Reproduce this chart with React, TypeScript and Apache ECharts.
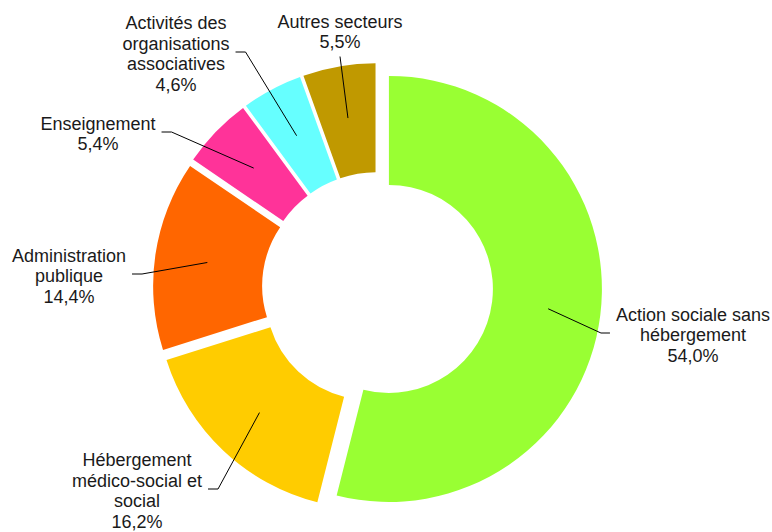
import React, { useEffect, useRef } from 'react';
import * as echarts from 'echarts';

const categories = [
  'Action sociale sans\nhébergement',
  'Hébergement\nmédico-social et\nsocial',
  'Administration\npublique',
  'Enseignement',
  'Activités des\norganisations\nassociatives',
  'Autres secteurs',
];
const values = [54.0, 16.2, 14.4, 5.4, 4.6, 5.5];
const colors = ['#99FF33', '#FFCC00', '#FF6600', '#FF3399', '#66FFFF', '#C09900'];

// Label layout: centre of each label block, and the side of the block the leader line reaches
const labelCenters = [
  [693, 335],
  [137, 491],
  [69, 276],
  [98, 134],
  [176, 54],
  [340, 32],
];
const labelSides = ['left', 'right', 'right', 'right', 'right', 'bottom'];

const CENTER = [377.5, 287.5];
const FONT = "'Liberation Sans', Arial, sans-serif";

const fmt = (v: number) => v.toFixed(1).replace('.', ',') + '%';

export default function App() {
  const ref = useRef<HTMLDivElement>(null);
  useEffect(() => {
    if (!ref.current) return;
    const chart = echarts.init(ref.current, null, { renderer: 'svg' });
    const data = categories.map((name, i) => ({
      name,
      value: values[i],
      selected: true,
      itemStyle: { color: colors[i] },
      select: { itemStyle: { color: colors[i], borderWidth: 0 } },
    }));
    chart.setOption({
      animation: false,
      backgroundColor: '#ffffff',
      series: [
        {
          type: 'pie',
          center: CENTER,
          radius: [104, 213],
          startAngle: 90,
          clockwise: true,
          selectedMode: 'multiple',
          selectedOffset: 11.5,
          silent: true,
          label: { show: false },
          labelLine: { show: false },
          emphasis: { disabled: true },
          itemStyle: { borderWidth: 0 },
          data,
          z: 1,
        },
        {
          type: 'pie',
          center: CENTER,
          radius: [0, 172],
          startAngle: 90,
          clockwise: true,
          silent: true,
          avoidLabelOverlap: false,
          emphasis: { disabled: true },
          itemStyle: { color: 'rgba(0,0,0,0)', borderWidth: 0 },
          label: {
            show: true,
            position: 'outside',
            color: '#1a1a1a',
            fontFamily: FONT,
            fontSize: 18,
            lineHeight: 20.5,
            align: 'center',
            formatter: (p: any) => p.name + '\n' + fmt(p.value),
          },
          labelLine: {
            show: true,
            lineStyle: { color: '#000000', width: 1 },
          },
          labelLayout: (params: any) => {
            const i = params.dataIndex;
            const [lx, ly] = labelCenters[i];
            const w = params.labelRect.width;
            const h = params.labelRect.height;
            const start = params.labelLinePoints ? params.labelLinePoints[0] : [lx, ly];
            const side = labelSides[i];
            let end: number[];
            let mid: number[];
            if (side === 'left') {
              end = [lx - w / 2 - 6, ly - 2];
              mid = [end[0] - 9, end[1]];
            } else if (side === 'right') {
              end = [lx + w / 2 + 6, ly - 2];
              mid = [end[0] + 10, end[1]];
            } else {
              end = [lx, ly + h / 2 + 4];
              mid = end;
            }
            return {
              x: lx,
              y: ly,
              align: 'center',
              verticalAlign: 'middle',
              labelLinePoints: [start, mid, end],
            };
          },
          data: categories.map((name, i) => ({ name, value: values[i] })),
          z: 2,
        },
      ],
    });
    return () => chart.dispose();
  }, []);
  return (
    <div
      ref={ref}
      style={{ position: 'fixed', left: 0, top: 0, width: 772, height: 532, background: '#fff' }}
    />
  );
}
